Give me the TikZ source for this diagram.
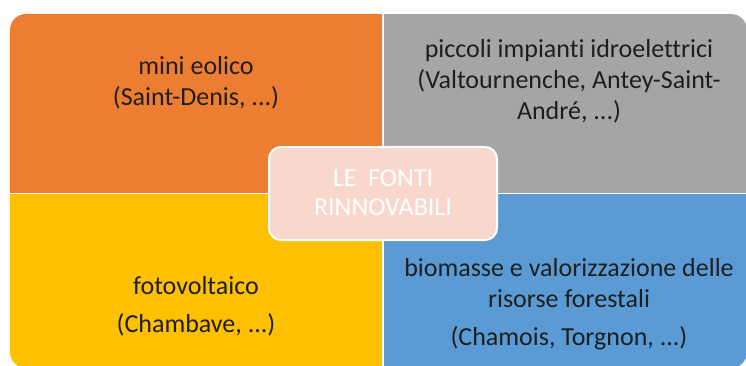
\documentclass[tikz,border=0pt]{standalone}
\usepackage{fontspec}
\setmainfont{Carlito}[Ligatures={NoCommon}]
\definecolor{qorange}{HTML}{ED7D31}
\definecolor{qgray}{HTML}{A5A5A5}
\definecolor{qyellow}{HTML}{FFC000}
\definecolor{qblue}{HTML}{5B9BD5}
\definecolor{qcenter}{HTML}{F8D8CD}
\definecolor{qtext}{HTML}{1E1E1E}
\begin{document}
\begin{tikzpicture}[x=1pt,y=-1pt,
  quadtext/.style={align=center,text=qtext,font=\fontsize{26}{31}\selectfont,inner sep=0pt},
  centerbox/.style={draw=white,line width=2pt,fill=qcenter,rounded corners=12pt}]
\useasboundingbox (0,0) rectangle (746,365);
\fill[white] (0,0) rectangle (746,365);
% quadrants: one rounded outline clipped to each quarter
\begin{scope}
  \clip (0,0) rectangle (382,192);
  \fill[qorange,rounded corners=16pt] (10,14) rectangle (747,368);
\end{scope}
\begin{scope}
  \clip (384,0) rectangle (800,192);
  \fill[qgray,rounded corners=16pt] (10,14) rectangle (747,368);
\end{scope}
\begin{scope}
  \clip (0,194) rectangle (382,400);
  \fill[qyellow,rounded corners=16pt] (10,14) rectangle (747,368);
\end{scope}
\begin{scope}
  \clip (384,194) rectangle (800,400);
  \fill[qblue,rounded corners=16pt] (10,14) rectangle (747,368);
\end{scope}
% texts
\node[quadtext] (wind) at (196,83) {mini eolico\\(Saint-Denis, ...)};
\node[quadtext] (hydro) at (569,81) {piccoli impianti idroelettrici\\(Valtournenche, Antey-Saint-\\André, ...)};
\node[quadtext] (solar) at (196,306) {fotovoltaico\\[7pt](Chambave, ...)};
\node[quadtext] (bio) at (569,304) {biomasse e valorizzazione delle\\risorse forestali\\[7pt](Chamois, Torgnon, ...)};
% center
\path[centerbox] (269,147) rectangle (497,240);
\node[align=center,text=white,font=\fontsize{26}{29}\selectfont,inner sep=0pt] (title) at (383,193) {LE\ \ FONTI\\RINNOVABILI};
\end{tikzpicture}
\end{document}
